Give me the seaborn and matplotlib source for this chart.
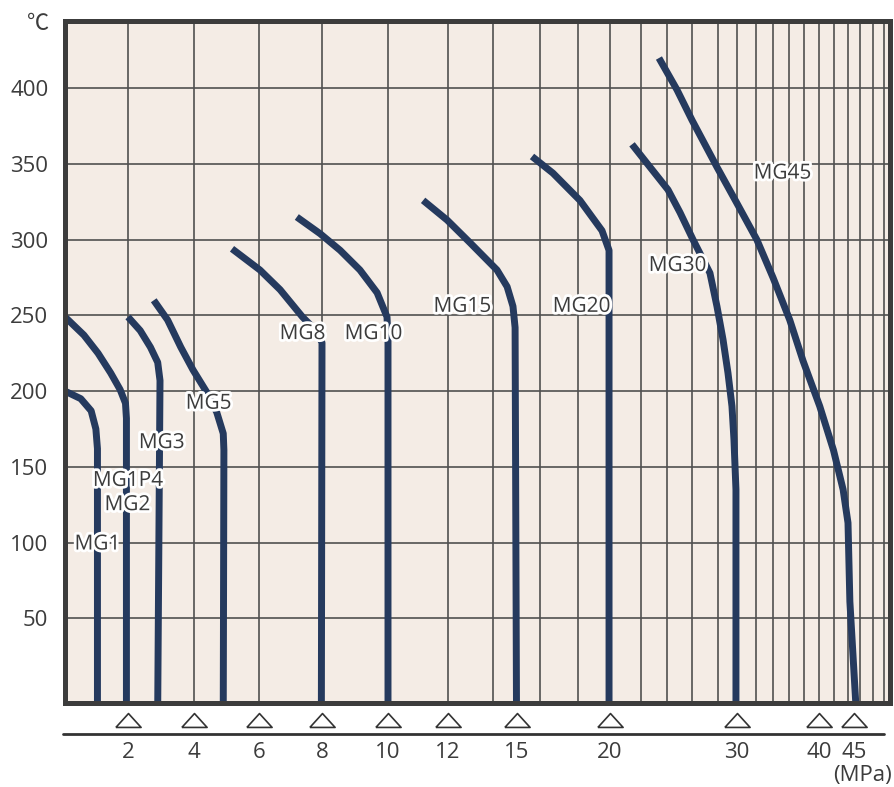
import numpy as np
import pandas as pd
import matplotlib
matplotlib.use("Agg")
import matplotlib.pyplot as plt
import matplotlib.patheffects as pe
import seaborn as sns

# pressure (MPa) / temperature (C) limit curves
mg1_p = [0.0, 0.5, 0.83, 0.98, 1.03, 1.03]
mg1_t = [200, 195, 187, 175, 162, -10]
mg2_p = [0.0, 0.6, 1.05, 1.45, 1.75, 1.92, 1.95, 1.95]
mg2_t = [249, 237, 225, 212, 201, 192, 182, -10]
mg3_p = [2.0, 2.37, 2.68, 2.9, 2.97, 2.9]
mg3_t = [249, 240, 229, 219, 207, -10]
mg5_p = [2.78, 3.2, 3.6, 3.97, 4.4, 4.7, 4.9, 4.92, 4.9]
mg5_t = [260, 247, 229, 214, 199, 186, 172, 161, -10]
mg8_p = [5.17, 6.03, 6.67, 7.38, 7.81, 8.0, 7.98]
mg8_t = [294, 280, 267, 249, 240, 232, -10]
mg10_p = [7.2, 7.94, 8.55, 9.15, 9.67, 9.97, 10.0, 10.0]
mg10_t = [315, 304, 293, 280, 265, 249, 234, -10]
mg15_p = [11.17, 11.97, 12.98, 14.17, 14.6, 14.85, 14.94, 15.0]
mg15_t = [326, 313, 298, 280, 269, 256, 242, -10]
mg20_p = [15.66, 16.68, 18.12, 19.5, 19.94, 19.94, 19.94]
mg20_t = [355, 344, 326, 306, 293, 278, -10]
mg30_p = [21.42, 22.69, 24.08, 25.04, 26.08, 27.38, 27.92, 28.53, 29.05, 29.47, 29.68, 29.89, 29.89]
mg30_t = [363, 348, 333, 318, 300, 278, 256, 234, 212, 190, 168, 135, -10]
mg45_p = [23.38, 24.8, 26.0, 27.92, 30.0, 32.1, 34.0, 36.1, 37.87, 40.1, 41.93, 43.3, 44.0, 44.3, 45.3]
mg45_t = [420, 399, 379, 348, 324, 300, 275, 247, 220, 190, 161, 135, 113, 61, -10]

curve_names = ["MG1", "MG2", "MG3", "MG5", "MG8", "MG10", "MG15", "MG20", "MG30", "MG45"]
curve_p = [mg1_p, mg2_p, mg3_p, mg5_p, mg8_p, mg10_p, mg15_p, mg20_p, mg30_p, mg45_p]
curve_t = [mg1_t, mg2_t, mg3_t, mg5_t, mg8_t, mg10_t, mg15_t, mg20_t, mg30_t, mg45_t]

# curve labels
label_text = ["MG1", "MG1P4", "MG2", "MG3", "MG5", "MG8", "MG10", "MG15", "MG20", "MG30", "MG45"]
label_p = [1.03, 2.0, 1.98, 3.02, 4.45, 7.38, 9.56, 12.64, 18.22, 24.84, 35.19]
label_t = [99, 141, 125, 166, 192, 238, 238, 256, 256, 283, 344]

x_labels = [2, 4, 6, 8, 10, 12, 15, 20, 30, 40, 45]
x_grid = list(range(2, 51, 2))
x_minor = list(range(21, 52, 2))
y_ticks = [50, 100, 150, 200, 250, 300, 350, 400]

# compressed pressure axis: MPa -> relative position
scale_mpa = list(range(0, 53, 2))
scale_pos = [0, 63, 129, 194, 257, 323, 383, 428, 475, 513, 545, 576, 602, 627,
             653, 672, 691, 708, 724, 739, 754, 769, 783, 795.5, 808, 819, 831]


def fwd(x):
    return np.interp(x, scale_mpa, scale_pos)


def inv(x):
    return np.interp(x, scale_pos, scale_mpa)


rows = []
for name, ps, ts in zip(curve_names, curve_p, curve_t):
    for i, (p, t) in enumerate(zip(ps, ts)):
        rows.append({"curve": name, "order": i, "P": p, "T": t})
df = pd.DataFrame(rows)

sns.set_theme(style="white")
plt.rcParams["font.family"] = ["Open Sans", "Noto Sans CJK JP", "DejaVu Sans"]

text_color = "#3c3c3c"
line_color = "#253a5e"
spine_color = "#3c3c3c"

fig = plt.figure(figsize=(8.94, 7.87), dpi=100)
ax = fig.add_axes([65 / 894, 84 / 787, 825 / 894, 682.2 / 787])
ax.set_facecolor("#f4ece5")
ax.set_xscale("function", functions=(fwd, inv))
ax.set_xlim(0, 51)
ax.set_ylim(-6, 444.6)

for g in x_grid:
    ax.axvline(g, color="#505050", lw=1.2, zorder=1)
for g in y_ticks:
    ax.axhline(g, color="#505050", lw=1.2, zorder=1)

for name in curve_names:
    sns.lineplot(data=df[df["curve"] == name], x="P", y="T", sort=False,
                 estimator=None, color=line_color, lw=5, ax=ax, zorder=3,
                 solid_capstyle="butt")

for txt, p, t in zip(label_text, label_p, label_t):
    ax.text(p, t, txt, ha="center", va="center", fontsize=15, color=text_color,
            zorder=5, path_effects=[pe.withStroke(linewidth=4, foreground="white")])

for s in ax.spines.values():
    s.set_color(spine_color)
    s.set_linewidth(3.6)
    s.set_zorder(6)

ax.set_xticks(x_labels)
ax.set_xticklabels([str(v) for v in x_labels])
ax.set_xticks(x_minor, minor=True)
ax.tick_params(axis="x", which="major", length=0, pad=28, labelsize=16, labelcolor=text_color)
ax.tick_params(axis="x", which="minor", direction="in", length=5, width=2, color="#707070")
ax.set_yticks(y_ticks)
ax.tick_params(axis="y", length=0, pad=12, labelsize=16, labelcolor=text_color)
ax.set_xlabel("")
ax.set_ylabel("")

# open triangles under the pressure ticks
ax.scatter(x_labels, [-0.025] * len(x_labels), transform=ax.get_xaxis_transform(),
           marker=[(-1, -0.55), (1, -0.55), (0, 0.55), (-1, -0.55)], s=330,
           facecolor="white", edgecolor="#333333", linewidths=1.2, clip_on=False, zorder=7)
ax.plot([-0.003, 0.993], [-0.0455, -0.0455], transform=ax.transAxes, color="#333333",
        lw=2, clip_on=False)

fig.text(38 / 894, 1 - 23 / 787, "℃", ha="center", va="center", fontsize=16,
         color=text_color, family=["Noto Sans CJK JP", "DejaVu Sans"])
fig.text(862 / 894, 1 - 776 / 787, "(MPa)", ha="center", va="center", fontsize=16,
         color=text_color)

fig.savefig("out.png", dpi=100)
